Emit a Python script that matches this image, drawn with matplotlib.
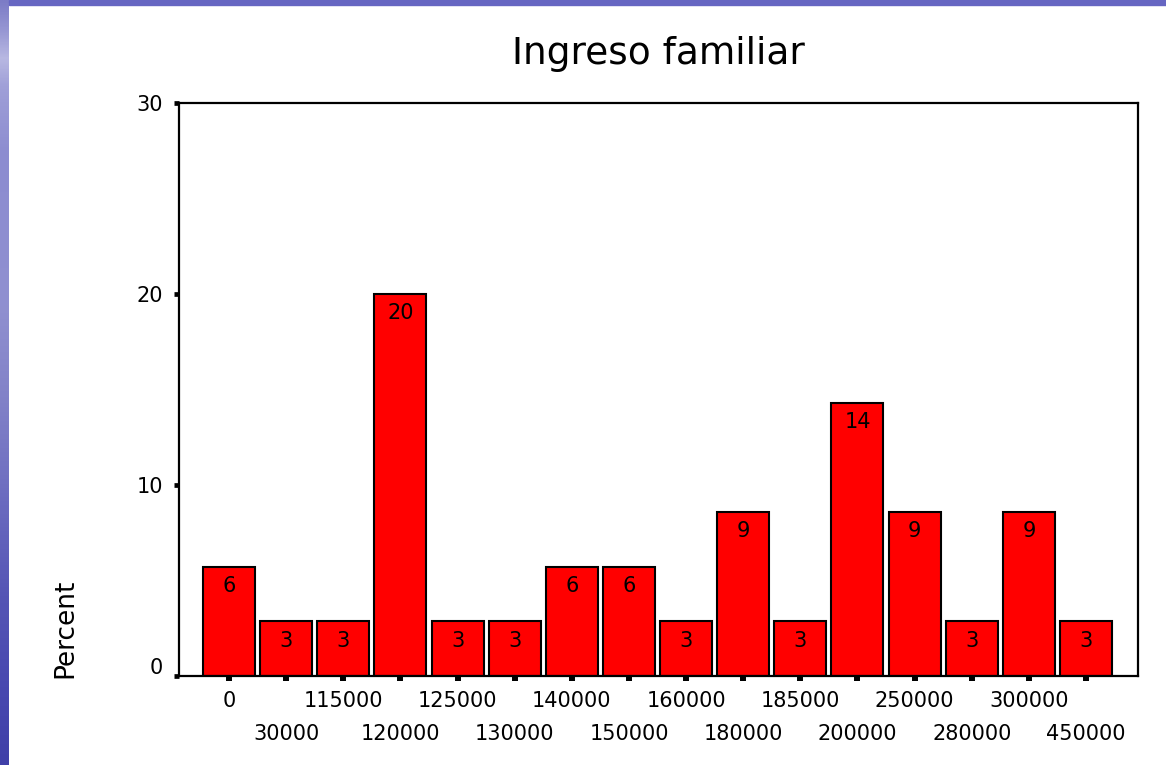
import matplotlib
matplotlib.use("Agg")
import matplotlib.pyplot as plt
import numpy as np
from matplotlib.colors import LinearSegmentedColormap
from matplotlib.patches import Rectangle
from matplotlib.transforms import ScaledTranslation

categories = ["0", "30000", "115000", "120000", "125000", "130000", "140000",
              "150000", "160000", "180000", "185000", "200000", "250000",
              "280000", "300000", "450000"]
percent = [5.71, 2.86, 2.86, 20.0, 2.86, 2.86, 5.71, 5.71, 2.86, 8.57,
           2.86, 14.29, 8.57, 2.86, 8.57, 2.86]
yticks = [0, 10, 20, 30]
title = "Ingreso familiar"
ylabel = "Percent"

plt.rcParams['font.family'] = ['DejaVu Sans']

W, H = 1166, 765
fig = plt.figure(figsize=(W / 100, H / 100), dpi=100)
fig.patch.set_facecolor("white")

# blue slide border (left strip gradient + top stripe)
stops = [(0.0, "#7c7cc6"), (0.04, "#9898d4"), (0.075, "#b8b8e2"),
         (0.11, "#a0a0d8"), (0.2, "#8c8cd0"), (0.4, "#9090d0"),
         (0.52, "#8282c8"), (0.65, "#6c6cc0"), (0.78, "#5555b5"),
         (0.9, "#4848b0"), (1.0, "#4040a8")]
cmap = LinearSegmentedColormap.from_list("border", stops)
bax = fig.add_axes([0, 0, 9 / W, 1])
bax.imshow(np.linspace(0, 1, 256).reshape(-1, 1), aspect="auto", cmap=cmap,
           extent=[0, 1, 1, 0])
bax.set_xlim(0, 1); bax.set_ylim(1, 0)
bax.axis("off")
fig.patches.append(Rectangle((9 / W, (H - 5) / H), 1, 5 / H,
                             transform=fig.transFigure, color="#6666c2",
                             zorder=0))

ax = fig.add_axes([179 / W, (H - 676) / H, (1138 - 179) / W, (676 - 103) / H])
x = np.arange(len(categories))
bars = ax.bar(x, percent, width=0.91, color="#ff0000", edgecolor="black",
              linewidth=1.5, zorder=2)
ax.bar_label(bars, labels=[f"{v:.0f}" for v in percent], padding=-21,
             fontsize=15)

ax.set_xlim(-0.876, 15.91)
ax.set_ylim(0, 30)
ax.set_yticks(yticks)
ax.set_yticklabels([str(t) for t in yticks], fontsize=15)

even = x[0::2]
odd = x[1::2]
ax.set_xticks(even)
ax.set_xticklabels(categories[0::2], fontsize=15)
ax.set_xticks(odd, minor=True)
ax.set_xticklabels(categories[1::2], minor=True, fontsize=15)

ax.tick_params(axis="x", which="both", direction="out", length=3.6, width=4.3,
               color="black", pad=7)
ax.tick_params(axis="x", which="minor", pad=31)
ax.tick_params(axis="y", direction="out", length=3.6, width=3.4, pad=8)

# the "0" label sits a little above its tick in the original
lab0 = ax.get_yticklabels()[0]
lab0.set_transform(lab0.get_transform() +
                   ScaledTranslation(0, 10 / 100, fig.dpi_scale_trans))

for s in ax.spines.values():
    s.set_linewidth(1.6)
    s.set_color("black")

ax.set_title(title, fontsize=27, pad=28)
ax.set_ylabel(ylabel, fontsize=19)
ax.yaxis.set_label_coords(-0.105, 0.084)

fig.savefig("out.png", dpi=100)
